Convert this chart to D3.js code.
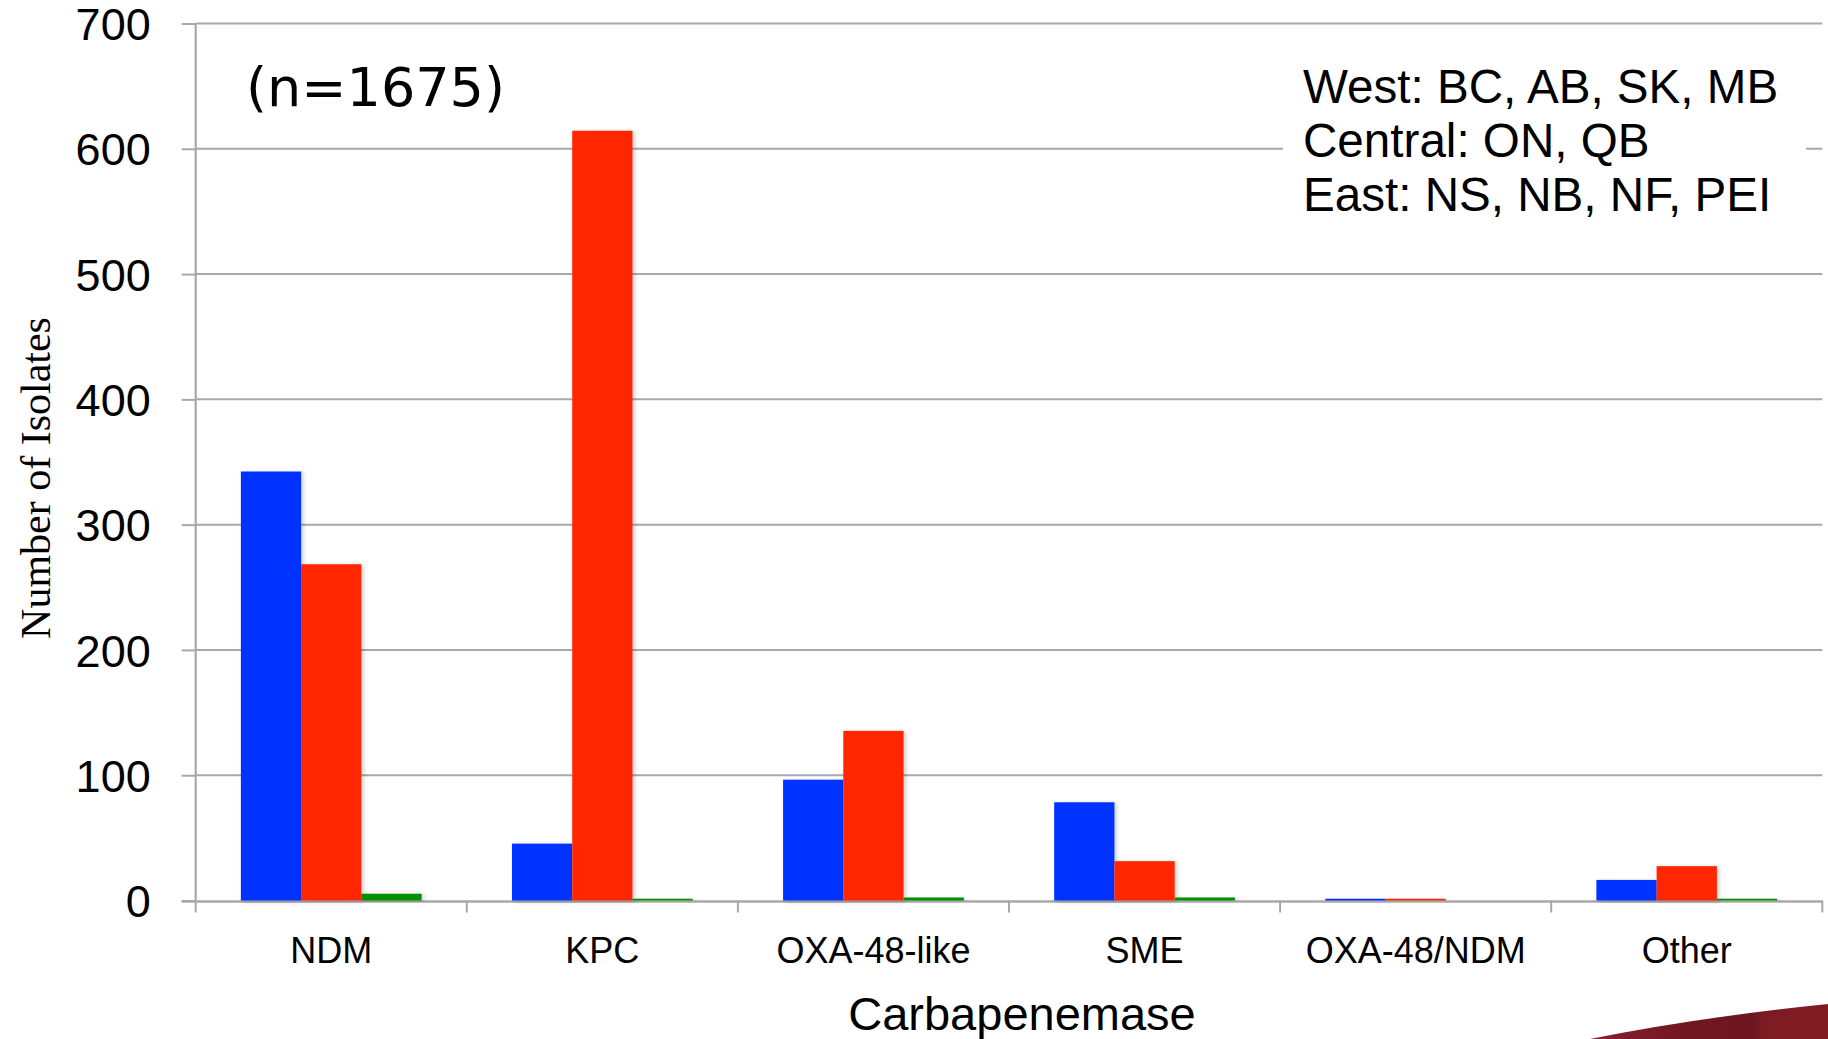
<!DOCTYPE html>
<html>
<head>
<meta charset="utf-8">
<script src="https://cdn.jsdelivr.net/npm/d3@7"></script>
<style>
  html, body { margin: 0; padding: 0; background: #ffffff; }
  svg { display: block; }
</style>
</head>
<body>
<svg id="chart" width="1828" height="1039"></svg>
<script>
// Carbapenemase isolates by region
const categories = ["NDM", "KPC", "OXA-48-like", "SME", "OXA-48/NDM", "Other"];
const regions = ["West", "Central", "East"];
const westValues = [342, 45, 96, 78, 1, 16];
const centralValues = [268, 614, 135, 31, 1, 27];
const eastValues = [5, 1, 2, 2, 0, 1];
const yTicks = [0, 100, 200, 300, 400, 500, 600, 700];
const regionNotes = ["West: BC, AB, SK, MB", "Central: ON, QB", "East: NS, NB, NF, PEI"];
const sampleNote = "(n=1675)";
const xTitle = "Carbapenemase";
const yTitle = "Number of Isolates";

const seriesValues = { West: westValues, Central: centralValues, East: eastValues };
const colors = { West: "#0433FF", Central: "#FF2600", East: "#008F00" };

const W = 1828, H = 1039;
const plot = { left: 195.7, right: 1822.3, top: 23.5, bottom: 900.5 };
const gridColor = "#a8a8a8";
const sans = "'Liberation Sans', Arial, Helvetica, sans-serif";

const svg = d3.select("#chart");

const defs = svg.append("defs");
const shadow = defs.append("filter").attr("id", "barShadow")
  .attr("x", "-20%").attr("y", "-5%").attr("width", "140%").attr("height", "115%");
shadow.append("feDropShadow")
  .attr("dx", 2).attr("dy", 1).attr("stdDeviation", 2)
  .attr("flood-color", "#000").attr("flood-opacity", 0.22);

const wedgeGrad = defs.append("linearGradient").attr("id", "wedgeGrad")
  .attr("x1", "0%").attr("y1", "0%").attr("x2", "100%").attr("y2", "0%");
wedgeGrad.append("stop").attr("offset", "0%").attr("stop-color", "#8a2030");
wedgeGrad.append("stop").attr("offset", "40%").attr("stop-color", "#701722");
wedgeGrad.append("stop").attr("offset", "70%").attr("stop-color", "#6f1621");
wedgeGrad.append("stop").attr("offset", "72%").attr("stop-color", "#7d1a22");
wedgeGrad.append("stop").attr("offset", "100%").attr("stop-color", "#7f1b23");

// Scales
const x = d3.scaleBand().domain(categories).range([plot.left, plot.right]).paddingInner(0).paddingOuter(0);
const xSub = d3.scaleBand().domain(regions).range([0, x.bandwidth()]).paddingInner(0).paddingOuter(0.75);
const y = d3.scaleLinear().domain([0, 700]).range([plot.bottom, plot.top]);

// Horizontal gridlines
svg.append("g").selectAll("line").data(yTicks.filter(d => d > 0)).join("line")
  .attr("x1", plot.left).attr("x2", plot.right)
  .attr("y1", d => y(d)).attr("y2", d => y(d))
  .attr("stroke", gridColor).attr("stroke-width", 2);

// Y axis with ticks and labels
const yAxis = svg.append("g").attr("transform", `translate(${plot.left},0)`)
  .call(d3.axisLeft(y).tickValues(yTicks).tickSize(14).tickPadding(31).tickFormat(d3.format("d")));
yAxis.select(".domain").attr("stroke", gridColor).attr("stroke-width", 2.2)
  .attr("d", `M0,${plot.top}V${plot.bottom}`);
yAxis.selectAll(".tick line").attr("stroke", gridColor).attr("stroke-width", 2);
yAxis.selectAll(".tick text")
  .attr("font-family", sans).attr("font-size", 45).attr("fill", "#000")
  .attr("dy", "0.36em");

// X axis line and category boundary ticks (drawn beneath the bars)
const xAxisG = svg.append("g").attr("transform", `translate(0,${plot.bottom})`);
xAxisG.append("line")
  .attr("x1", plot.left - 14).attr("x2", plot.right)
  .attr("y1", 1).attr("y2", 1)
  .attr("stroke", gridColor).attr("stroke-width", 2.4);
const boundaries = categories.map(c => x(c)).concat([x(categories[categories.length - 1]) + x.bandwidth()]);
xAxisG.selectAll("line.cat-tick").data(boundaries).join("line")
  .attr("class", "cat-tick")
  .attr("x1", d => d).attr("x2", d => d)
  .attr("y1", 0).attr("y2", 12)
  .attr("stroke", gridColor).attr("stroke-width", 2);
xAxisG.selectAll("text").data(categories).join("text")
  .attr("x", d => x(d) + x.bandwidth() / 2)
  .attr("y", 62)
  .attr("text-anchor", "middle")
  .attr("font-family", sans).attr("font-size", 36).attr("fill", "#000")
  .text(d => d);

// Bars
const groups = svg.append("g").selectAll("g").data(categories).join("g")
  .attr("transform", d => `translate(${x(d)},0)`);
groups.selectAll("rect")
  .data((c, i) => regions.map(r => ({ region: r, value: seriesValues[r][i] })))
  .join("rect")
  .attr("x", d => xSub(d.region))
  .attr("width", xSub.bandwidth())
  .attr("y", d => y(d.value) - 0.5)
  .attr("height", d => d.value > 0 ? y(0) - y(d.value) + 0.5 : 0)
  .attr("fill", d => colors[d.region])
  .attr("filter", "url(#barShadow)");

// Axis titles
svg.append("text")
  .attr("x", 1022).attr("y", 1030)
  .attr("text-anchor", "middle")
  .attr("font-family", sans).attr("font-size", 47).attr("fill", "#000")
  .text(xTitle);

svg.append("text")
  .attr("transform", `translate(50,478) rotate(-90)`)
  .attr("text-anchor", "middle")
  .attr("font-family", "'Liberation Serif', 'Times New Roman', Times, serif")
  .attr("font-size", 42).attr("fill", "#000")
  .text(yTitle);

// Sample size note
svg.append("text")
  .attr("x", 246).attr("y", 106)
  .attr("font-family", "'DejaVu Sans', Verdana, sans-serif")
  .attr("font-size", 54).attr("fill", "#000")
  .text(sampleNote);

// Region key box
svg.append("rect")
  .attr("x", 1283).attr("y", 50).attr("width", 523).attr("height", 200)
  .attr("fill", "#ffffff");
svg.append("g").selectAll("text").data(regionNotes).join("text")
  .attr("x", 1303)
  .attr("y", (d, i) => 103 + i * 54)
  .attr("font-family", sans).attr("font-size", 47.6).attr("fill", "#000")
  .text(d => d);

// Corner wedge
svg.append("path")
  .attr("d", `M1590,${H} Q1700,1017 ${W},1004 L${W},${H} Z`)
  .attr("fill", "url(#wedgeGrad)");
</script>
</body>
</html>
